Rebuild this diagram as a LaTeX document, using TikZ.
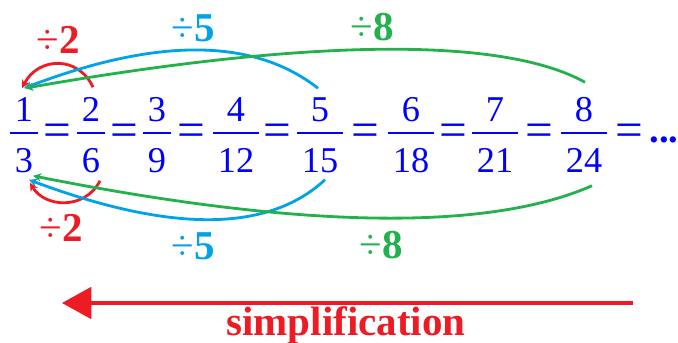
\documentclass[tikz,border=0pt]{standalone}
\usepackage{fontspec}
\setmainfont{Liberation Serif}
\usepackage{tikz}
\usetikzlibrary{arrows.meta, calc, positioning}
\definecolor{fblue}{HTML}{0000FF}
\definecolor{pred}{HTML}{ED1C24}
\definecolor{pgreen}{HTML}{22B14C}
\definecolor{pcyan}{HTML}{00A2E8}

\begin{document}
\begin{tikzpicture}[x=0.03cm, y=-0.03cm,
  frac/.style={text=fblue, align=center, inner xsep=4pt, inner ysep=0pt,
    font=\fontsize{31}{43.4}\selectfont,
    path picture={\draw[fblue, line width=1.8pt]
      ([yshift=1.7pt]path picture bounding box.west) -- ([yshift=1.7pt]path picture bounding box.east);}},
  eq/.style={text=fblue, anchor=base, inner sep=0pt, font=\fontsize{42}{48}\selectfont},
  lbl/.style={inner sep=0pt, font=\fontsize{35}{42}\selectfont\bfseries},
  hop/.style={line width=2.4pt, -{Stealth[length=7pt, width=7pt]}}]
\useasboundingbox (0,0) rectangle (678,343);

% Fractions
\node[frac] (f1) at (24,135) {1\\3};
\node[frac] (f2) at (91,135) {2\\6};
\node[frac] (f3) at (157,135) {3\\9};
\node[frac] (f4) at (236,135) {4\\12};
\node[frac] (f5) at (320,135) {5\\15};
\node[frac] (f6) at (411,135) {6\\18};
\node[frac] (f7) at (495,135) {7\\21};
\node[frac] (f8) at (584,135) {8\\24};

% Equal signs
\node[eq] (e1) at (57,147) {=};
\node[eq] (e2) at (124,147) {=};
\node[eq] (e3) at (191,147) {=};
\node[eq] (e4) at (277,147) {=};
\node[eq] (e5) at (365,147) {=};
\node[eq] (e6) at (453,147) {=};
\node[eq] (e7) at (539,147) {=};
\node[eq] (e8) at (629,147) {=};
\node[eq, font=\fontsize{33}{40}\selectfont] (dots) at (664,143) {\textbf{...}};

% Labels
\node[lbl, text=pred] (lt2) at (58,40) {\mdseries÷\bfseries2};
\node[lbl, text=pcyan] (lt5) at (193,28) {\mdseries÷\bfseries5};
\node[lbl, text=pgreen] (lt8) at (372,27) {\mdseries÷\bfseries8};
\node[lbl, text=pred] (lb2) at (61,228) {\mdseries÷\bfseries2};
\node[lbl, text=pcyan] (lb5) at (193,246) {\mdseries÷\bfseries5};
\node[lbl, text=pgreen] (lb8) at (381,245) {\mdseries÷\bfseries8};

% Arcs above
\draw[hop, pred] ($(f2.north)+(2,-10)$) .. controls (78,55) and (38,57) .. ($(f1.north)+(-2,-9)$);
\draw[hop, pcyan] ($(f5.north)+(-2,-9)$) .. controls (250,35) and (150,40) .. ($(f1.north)+(0,-9)$);
\draw[hop, pgreen] ($(f8.north)+(1,-15)$) .. controls (500,35) and (300,40) .. ($(f1.north)+(1,-9)$);

% Arcs below
\draw[hop, pred] ($(f2.south)+(9,8)$) .. controls (85,210) and (45,208) .. ($(f1.south)+(6,10)$);
\draw[hop, pcyan] ($(f5.south)+(5,7)$) .. controls (260,240) and (150,225) .. ($(f1.south)+(5,7)$);
\draw[hop, pgreen] ($(f8.south)+(8,13)$) .. controls (480,235) and (280,225) .. ($(f1.south)+(9,3)$);

% Simplification arrow
\coordinate (sR) at (633,303);
\coordinate (sL) at (62,303);
\draw[pred, line width=2.6pt, -{Triangle[length=25pt, width=27pt]}] (sR) -- (sL);
\node[lbl, text=pred, anchor=base] (simp) at (346,335) {simplification};
\end{tikzpicture}
\end{document}
